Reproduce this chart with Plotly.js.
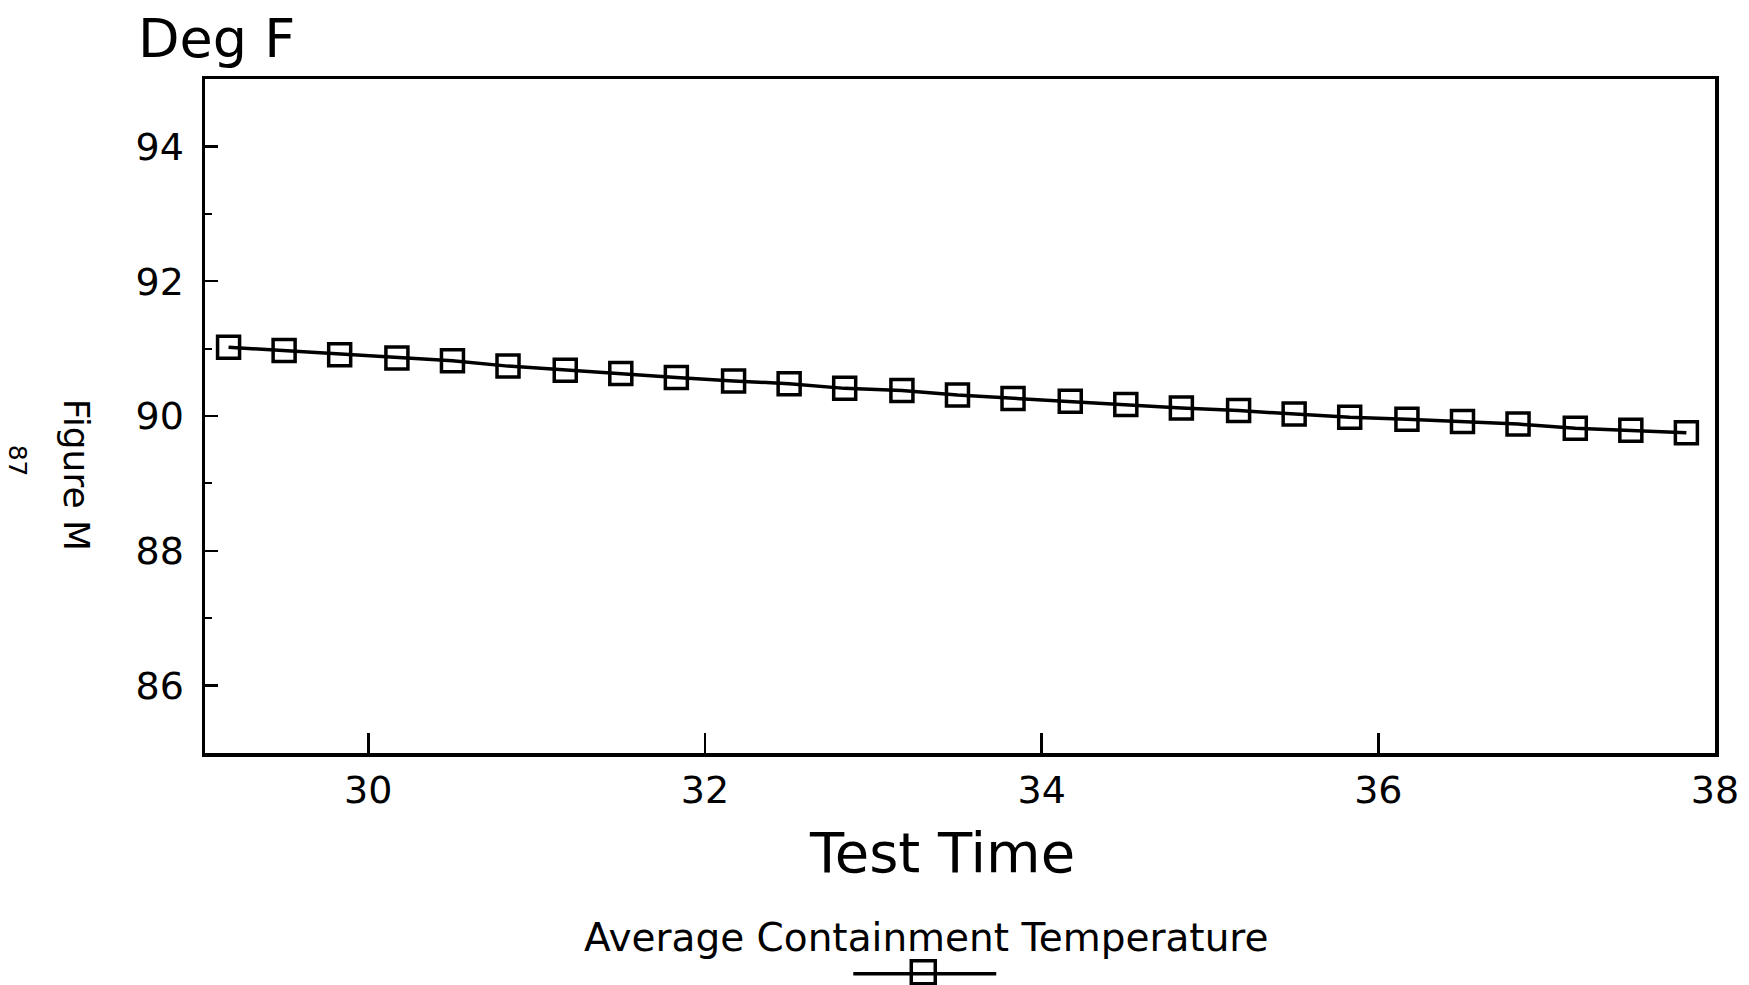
<!DOCTYPE html>
<html>
<head>
<meta charset="utf-8">
<script src="https://cdn.plot.ly/plotly-3.0.1.min.js"></script>
<style>html,body{margin:0;padding:0;background:#fff;}#chart{width:1749px;height:985px;}</style>
</head>
<body>
<div id="chart"></div>
<script>
// Data
var testTime = [29.17, 29.5, 29.83, 30.17, 30.5, 30.83, 31.17, 31.5, 31.83, 32.17, 32.5, 32.83, 33.17, 33.5, 33.83, 34.17, 34.5, 34.83, 35.17, 35.5, 35.83, 36.17, 36.5, 36.83, 37.17, 37.5, 37.83];
var avgContainmentTemp = [91.02, 90.97, 90.91, 90.86, 90.82, 90.74, 90.68, 90.63, 90.57, 90.52, 90.48, 90.41, 90.38, 90.31, 90.26, 90.22, 90.17, 90.12, 90.08, 90.03, 89.98, 89.95, 89.92, 89.88, 89.82, 89.79, 89.75];
var seriesName = "Average Containment Temperature";
var xTickVals = [30, 32, 34, 36, 38];
var yTickVals = [86, 88, 90, 92, 94];

var W = 1749, H = 985;
var L = 204.5, R = 1715, T = 78.5, B = 753;
function px(x){ return (x - L) / (R - L); }
function py(y){ return (B - y) / (B - T); }
var FONT = "DejaVu Sans";

var trace = {
  x: testTime, y: avgContainmentTemp, type: 'scatter', mode: 'lines+markers',
  name: seriesName,
  line: {color: '#000', width: 3.5},
  marker: {symbol: 'square-open', size: 22, color: '#000', line: {color: '#000', width: 3.5}},
  showlegend: false, hoverinfo: 'skip'
};

var layout = {
  width: W, height: H,
  margin: {l: L, r: W - R, t: T, b: H - B, pad: 0},
  paper_bgcolor: '#fff', plot_bgcolor: '#fff',
  showlegend: false,
  title: {text: 'Deg F', font: {family: FONT, size: 54, color: '#000'},
          x: 138 / W, xanchor: 'left', xref: 'container',
          y: 1 - 38 / H, yanchor: 'middle', yref: 'container'},
  xaxis: {
    range: [29.03, 38], showgrid: false, zeroline: false,
    showline: true, linecolor: '#000', linewidth: 3.5, mirror: true,
    ticks: 'inside', ticklen: 20, tickwidth: 2.5, tickcolor: '#000',
    tickvals: xTickVals, ticktext: xTickVals.map(String),
    tickfont: {family: FONT, size: 38, color: '#000'}, ticklabelstandoff: 1
  },
  yaxis: {
    range: [85, 95], showgrid: false, zeroline: false,
    showline: true, linecolor: '#000', linewidth: 3.5, mirror: true,
    ticks: 'inside', ticklen: 13, tickwidth: 2.5, tickcolor: '#000',
    tickvals: yTickVals, ticktext: yTickVals.map(String),
    tickfont: {family: FONT, size: 38, color: '#000'}, ticklabelstandoff: 10,
    minor: {ticks: 'inside', ticklen: 7, tickwidth: 2, tickcolor: '#000', dtick: 1, showgrid: false}
  },
  annotations: [
    {text: 'Test Time', xref: 'paper', yref: 'paper', x: px(942), y: py(853),
     xanchor: 'center', yanchor: 'middle', showarrow: false,
     font: {family: FONT, size: 56, color: '#000'}},
    {text: seriesName, xref: 'paper', yref: 'paper', x: px(926), y: py(938),
     xanchor: 'center', yanchor: 'middle', showarrow: false,
     font: {family: FONT, size: 39, color: '#000'}},
    {text: 'Figure M', xref: 'paper', yref: 'paper', x: px(76), y: py(474),
     xanchor: 'center', yanchor: 'middle', showarrow: false, textangle: 90,
     font: {family: FONT, size: 36, color: '#000'}},
    {text: '87', xref: 'paper', yref: 'paper', x: px(17), y: py(460),
     xanchor: 'center', yanchor: 'middle', showarrow: false, textangle: 90,
     font: {family: FONT, size: 25, color: '#000'}}
  ],
  shapes: [
    {type: 'line', xref: 'paper', yref: 'paper', x0: px(853), x1: px(996), y0: py(974), y1: py(974),
     line: {color: '#000', width: 3.5}},
    {type: 'rect', xref: 'paper', yref: 'paper', x0: px(911), x1: px(935), y0: py(961), y1: py(984),
     line: {color: '#000', width: 3.5}, fillcolor: 'rgba(0,0,0,0)'}
  ]
};

Plotly.newPlot('chart', [trace], layout, {displayModeBar: false, staticPlot: true});
</script>
</body>
</html>
